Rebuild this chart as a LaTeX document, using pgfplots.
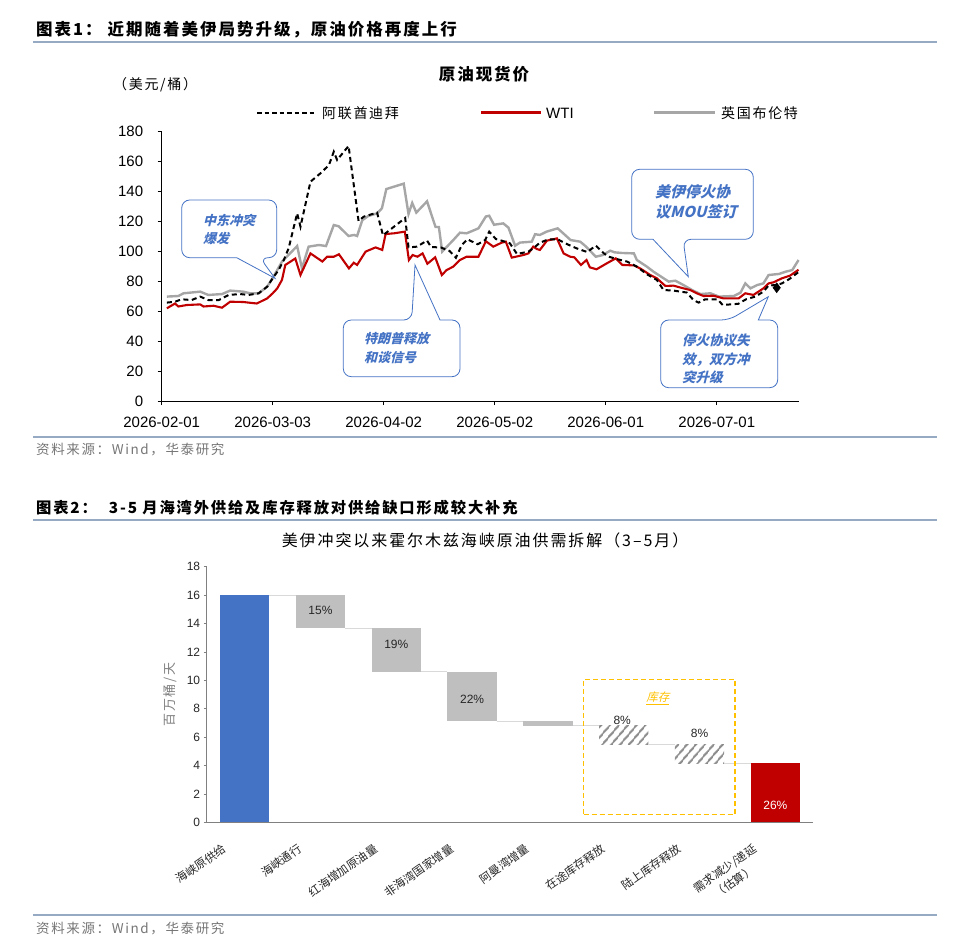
\documentclass[border=0pt]{standalone}
\usepackage{fontspec}
\setmainfont{Liberation Sans}
\newfontfamily\cjk{Noto Sans CJK SC}
\newfontfamily\cjkT[LetterSpace=12]{Noto Sans CJK SC}
\newfontfamily\cjkit[FakeSlant=0.25]{Noto Sans CJK SC}
\usepackage{pgfplots}
\pgfplotsset{compat=1.18}
\usetikzlibrary{patterns.meta}
\definecolor{wtired}{RGB}{192,0,0}
\definecolor{brent}{RGB}{166,166,166}
\definecolor{sepline}{RGB}{150,170,196}
\definecolor{annblue}{RGB}{68,114,196}
\definecolor{srcgray}{RGB}{118,118,118}
\definecolor{barblue}{RGB}{68,114,196}
\definecolor{bargray}{RGB}{191,191,191}
\definecolor{gold}{RGB}{255,192,0}
\definecolor{conn}{RGB}{217,217,217}
\definecolor{hatch}{RGB}{140,140,140}
\definecolor{axgray}{RGB}{128,128,128}
\definecolor{txtdark}{RGB}{38,38,38}
\begin{document}
\begin{tikzpicture}[x=1pt,y=1pt]
\useasboundingbox (0,0) rectangle (957,-949);
% ---------- Panel 1 headers ----------
\node[anchor=west,inner sep=0] at (36,-30) {\cjkT\bfseries\fontsize{16.5}{18}\selectfont 图表1：\hspace{6pt}近期随着美伊局势升级，原油价格再度上行};
\draw[sepline,line width=2.2pt] (33,-42) -- (937,-42);
\node[inner sep=0] at (484,-74) {\cjkT\bfseries\fontsize{16.5}{18}\selectfont 原油现货价};
\node[anchor=west,inner sep=0] at (113,-85) {\cjkT\fontsize{14}{16}\selectfont （美元/桶）};
% legend
\draw[black,line width=2.5pt,dash pattern=on 4.5pt off 3pt] (257,-113) -- (316,-113);
\node[anchor=west,inner sep=0] at (322,-113) {\cjkT\fontsize{14}{16}\selectfont 阿联酋迪拜};
\draw[wtired,line width=3pt] (481,-113) -- (541,-113);
\node[anchor=west,inner sep=0] at (546,-113) {\fontsize{15}{17}\selectfont WTI};
\draw[brent,line width=3pt] (654,-113) -- (715,-113);
\node[anchor=west,inner sep=0] at (721,-113) {\cjkT\fontsize{14}{16}\selectfont 英国布伦特};
% ---------- Panel 1 axis ----------
\begin{axis}[
  at={(161.7pt,-401pt)}, anchor=south west,
  scale only axis, width=637.6pt, height=270pt,
  xmin=0, xmax=172.3, ymin=0, ymax=180,
  axis x line*=bottom, axis y line*=left,
  axis line style={black,line width=0.8pt},
  tick align=outside, major tick length=4pt,
  tick style={black,line width=0.8pt},
  ytick={0,20,...,180},
  xtick={0,30,60,90,120,150},
  xticklabels={2026-02-01,2026-03-03,2026-04-02,2026-05-02,2026-06-01,2026-07-01},
  ticklabel style={font=\fontsize{15}{17}\selectfont},
  yticklabel style={xshift=-11pt},
  xticklabel style={yshift=-8pt},
  /pgf/number format/assume math mode=true,
]
\addplot[brent,line width=2.4pt] coordinates {
(1.4,69.6)(4.5,70)(5.9,71.8)(10.4,72.9)(12.6,70.7)(16.3,71.3)(18.5,73.6)(22,72.9)(23.9,71.8)(26.2,71.8)(28.5,76.2)(30.3,83.3)(32.5,92.9)(36.6,103.3)(37.9,88.4)(39.7,102.9)(42.5,104)(44.4,103.3)(46.5,117.3)(47.8,116.5)(50.5,110)(52,110.7)(52.8,110)(54.2,120.5)(55.8,123.3)(58.2,125.1)(59.5,128.4)(60.7,141.3)(65.4,144.9)(66.7,124.6)(67.7,132)(68.8,125.6)(71.7,133.1)(74,116)(74.9,116)(75.8,99.6)(78.8,107.3)(80.6,112.2)(82.4,111.8)(85.6,115.1)(87.6,123)(88.5,123.5)(89.8,117.5)(92.3,118.4)(93.7,115.6)(95.5,103.5)(96.8,105.6)(100,106.2)(100.9,111.2)(102.2,110.7)(104,112.9)(107,115.1)(108.5,111.8)(110.5,107.3)(113.1,106.2)(114.6,103.1)(117.3,96.2)(119.2,97.3)(121.2,100.2)(122.4,99.1)(124.3,98.7)(127.6,98.4)(128.4,94)(131.1,89.6)(132.9,86.2)(134.7,83.3)(137,79.6)(138.8,80.2)(141,77.3)(143.3,74)(144.2,72.9)(145.6,71.3)(148.3,71.8)(150.6,69.6)(154.6,70)(156.4,72.2)(157.7,78.4)(159.1,75.1)(160.9,77.3)(162.6,78.4)(164,84)(166.8,84.7)(168.6,86.2)(170.4,87.3)(172.1,94)
};
\addplot[wtired,line width=2.1pt] coordinates {
(1.4,61.8)(3.6,65)(4.5,63)(6.8,64)(10.4,64.4)(11.3,63)(14,63.5)(16.3,62.2)(18.5,66.2)(22,66)(25.7,65)(28.5,68.4)(30,71.8)(31.2,75)(32.5,80.7)(33.4,90.7)(36.1,95)(37.5,84)(40.2,98.4)(43.4,93)(44.7,96.2)(46.5,96.2)(47.9,97.8)(50.6,88.4)(51.9,92.2)(52.8,90.7)(55.1,99.6)(57.8,102.4)(59.6,100.7)(60.5,111.3)(62.8,111.8)(65.7,112.9)(66.8,94)(67.8,97.3)(69.1,96.2)(70.5,98.4)(71.8,91.5)(73.9,95.8)(75.7,84)(77,87.3)(78.8,89.6)(80.6,94)(82.4,96.2)(85.6,96.2)(87.6,106.5)(89.6,102.9)(91.9,105.6)(93,106.2)(94.6,95.6)(97.7,97.3)(99.1,98.4)(100.4,102.9)(101.4,101.3)(102.2,100.7)(104.1,106.9)(106.8,108.4)(108.6,98.4)(110.4,96.2)(111.5,95.8)(113.3,90.7)(114.8,94)(115.7,89.1)(117.5,87.8)(120.3,91.8)(122.7,95.1)(124.5,90.7)(127.6,90.4)(129.3,88.4)(132,84)(133.8,81.8)(136.1,76.7)(138.3,76.9)(141,75.1)(142.8,74)(144.6,71.8)(146.4,70)(149.1,70.2)(151.8,68.4)(155.9,68.4)(157.7,71.8)(159.9,70.7)(162.6,75.1)(164,78.4)(165.3,79.1)(167.6,81.8)(169.8,83.6)(172.1,87.5)
};
\addplot[black,line width=2pt,dash pattern=on 5pt off 3.5pt] coordinates {
(1.4,65.6)(3.6,66.2)(5.4,67.8)(8.1,67.3)(10.4,69.6)(12.6,67.3)(15.4,67.3)(18.1,70.7)(21.2,71.3)(23.5,70.7)(26.2,71.8)(28.5,76.2)(30.3,82.9)(31.6,87.3)(33,94)(34.3,101.8)(36.6,125.1)(37.5,116.2)(40.2,146.2)(42.9,151.8)(45.2,157.3)(46.5,166.2)(47.4,160.7)(50.5,170)(53.2,120)(54.6,122.9)(58.2,125.6)(59.8,110.5)(65.8,122)(66.7,102.4)(69,102.9)(71.7,107)(72.8,102.6)(75.4,102.4)(77.8,100)(79.5,95.5)(81.1,104)(82.6,107.8)(85.4,104.5)(87.4,107.3)(88.5,112.9)(90.3,108)(92.8,106.2)(94.1,105.1)(96,98)(99.1,99.6)(100.4,101.8)(102.2,105.5)(104.5,107.8)(107,107.8)(109.6,104.5)(112.1,101.8)(115,99.3)(117.3,103.6)(119.5,98.4)(120.8,96.2)(123.2,94.5)(125.8,92.9)(128.4,89.6)(131.1,84.5)(133.8,80.7)(135.6,74)(138.3,73.6)(141.9,72.3)(143.7,67.3)(145.1,65.6)(146.9,67.8)(150.2,67.8)(151.6,64)(155.8,64.8)(157.9,67.8)(160.4,69.6)(162.6,72.9)(164,77)(166,77.3)(167.6,78.4)(169.6,81.3)(172.1,86)
};
\addplot[only marks,mark=diamond*,mark size=5pt,black] coordinates {(166.2,75.5)};
\end{axis}
% callouts
\begin{scope}[annblue,line width=0.8pt]
\filldraw[fill=white] (260,-257.7) -- (275,-278.3) -- (236.7,-257.7) [rounded corners=8pt] -- (181.7,-257.7) -- (181.7,-200) -- (276.7,-200) -- (276.7,-257.7) -- cycle;
\filldraw[fill=white] (411.7,-320) -- (415,-265) -- (440,-320) [rounded corners=8pt] -- (460,-320) -- (460,-376.7) -- (343.3,-376.7) -- (343.3,-320) -- cycle;
\filldraw[fill=white] (683,-239.3) -- (688.3,-276.7) -- (653,-239.3) [rounded corners=8pt] -- (631.7,-239.3) -- (631.7,-169.3) -- (753.3,-169.3) -- (753.3,-239.3) -- cycle;
\filldraw[fill=white] (729,-320) -- (768.3,-296.7) -- (758.3,-320) [rounded corners=8pt] -- (777.7,-320) -- (777.7,-387.7) -- (660.7,-387.7) -- (660.7,-320) -- cycle;
\end{scope}
\begin{scope}[every node/.style={anchor=west,inner sep=0,text=annblue}]
\node at (203,-220) {\cjkit\bfseries\fontsize{13}{15}\selectfont 中东冲突};
\node at (203,-238.5) {\cjkit\bfseries\fontsize{13}{15}\selectfont 爆发};
\node at (364,-339) {\cjkit\bfseries\fontsize{13}{15}\selectfont 特朗普释放};
\node at (364,-357.7) {\cjkit\bfseries\fontsize{13}{15}\selectfont 和谈信号};
\node at (655,-191.7) {\cjkit\bfseries\fontsize{15}{17}\selectfont 美伊停火协};
\node at (655,-211.7) {\cjkit\bfseries\fontsize{15}{17}\selectfont 议MOU签订};
\node at (682,-340.7) {\cjkit\bfseries\fontsize{13.5}{15}\selectfont 停火协议失};
\node at (682,-359.3) {\cjkit\bfseries\fontsize{13.5}{15}\selectfont 效，双方冲};
\node at (682,-377.7) {\cjkit\bfseries\fontsize{13.5}{15}\selectfont 突升级};
\end{scope}
\draw[sepline,line width=2.2pt] (33,-437) -- (937,-437);
\node[anchor=west,inner sep=0,text=srcgray] at (36,-450) {\cjkT\fontsize{13.5}{15}\selectfont 资料来源：Wind，华泰研究};
% ---------- Panel 2 headers ----------
\node[anchor=west,inner sep=0] at (36,-508) {\cjkT\bfseries\fontsize{15.3}{18}\selectfont 图表2：\hspace{12pt}3-5 月海湾外供给及库存释放对供给缺口形成较大补充};
\draw[sepline,line width=2.2pt] (33,-520) -- (937,-520);
\node[inner sep=0] at (485,-540) {\cjkT\fontsize{16}{18}\selectfont 美伊冲突以来霍尔木兹海峡原油供需拆解（3–5月）};
% ---------- Panel 2 axis ----------
\begin{axis}[
  at={(206.7pt,-822.3pt)}, anchor=south west,
  scale only axis, width=606.6pt, height=255.6pt,
  xmin=0, xmax=8, ymin=0, ymax=18,
  axis x line*=bottom, axis y line*=left,
  axis line style={axgray,line width=0.8pt},
  tick align=outside, major tick length=3pt,
  tick style={axgray,line width=0.8pt},
  ytick={0,2,...,18},
  xtick={0.5,1.5,...,7.5},
  x tick style={draw=none},
  xticklabels={海峡原供给,海峡通行,红海增加原油量,非海湾国家增量,阿曼湾增量,在途库存释放,陆上库存释放,需求减少/递延\\（估算）},
  yticklabel style={font=\fontsize{12}{14}\selectfont,text=txtdark},
  xticklabel style={font=\cjk\fontsize{11.5}{16}\selectfont,text=txtdark,rotate=35,anchor=north east,align=center,inner sep=0pt,xshift=-29pt,yshift=-1pt},
  ylabel={\cjkT\fontsize{13}{15}\selectfont 百万桶/天},
  ylabel style={text=axgray,at={(axis description cs:-0.0605,0.5)},anchor=center},
  /pgf/number format/assume math mode=true,
  clip=false,
]
\addplot[fill=barblue,draw=none] coordinates {(0.175,0)(0.825,0)(0.825,16)(0.175,16)} --cycle;
\addplot[fill=bargray,draw=none] coordinates {(1.175,13.65)(1.825,13.65)(1.825,16)(1.175,16)} --cycle;
\addplot[fill=bargray,draw=none] coordinates {(2.175,10.6)(2.825,10.6)(2.825,13.65)(2.175,13.65)} --cycle;
\addplot[fill=bargray,draw=none] coordinates {(3.175,7.1)(3.825,7.1)(3.825,10.6)(3.175,10.6)} --cycle;
\addplot[fill=bargray,draw=none] coordinates {(4.175,6.8)(4.825,6.8)(4.825,7.1)(4.175,7.1)} --cycle;
\addplot[pattern={Lines[angle=50,distance=6.5pt,line width=2.2pt]},pattern color=hatch,draw=none] coordinates {(5.175,5.5)(5.825,5.5)(5.825,6.8)(5.175,6.8)} --cycle;
\addplot[pattern={Lines[angle=50,distance=6.5pt,line width=2.2pt]},pattern color=hatch,draw=none] coordinates {(6.175,4.15)(6.825,4.15)(6.825,5.5)(6.175,5.5)} --cycle;
\addplot[fill=wtired,draw=none] coordinates {(7.175,0)(7.825,0)(7.825,4.15)(7.175,4.15)} --cycle;
% connectors
\addplot[conn,line width=1.2pt] coordinates {(0.825,16)(1.175,16)};
\addplot[conn,line width=1.2pt] coordinates {(1.825,13.65)(2.175,13.65)};
\addplot[conn,line width=1.2pt] coordinates {(2.825,10.6)(3.175,10.6)};
\addplot[conn,line width=1.2pt] coordinates {(3.825,7.1)(4.175,7.1)};
\addplot[conn,line width=1.2pt] coordinates {(4.825,6.8)(5.175,6.8)};
\addplot[conn,line width=1.2pt] coordinates {(5.825,5.5)(6.175,5.5)};
\addplot[conn,line width=1.2pt] coordinates {(6.825,4.15)(7.175,4.15)};
% inventory box
\addplot[draw=gold,line width=1.6pt,dash pattern=on 5pt off 3pt] coordinates {(4.97,0.56)(6.97,0.56)(6.97,10.07)(4.97,10.07)(4.97,0.56)};
\node[text=gold] at (axis cs:5.95,8.73) {\cjkit\fontsize{11.5}{13}\selectfont\underline{库存}};
\node[text=txtdark] at (axis cs:1.5,14.9) {\fontsize{12}{14}\selectfont 15\%};
\node[text=txtdark] at (axis cs:2.5,12.5) {\fontsize{12}{14}\selectfont 19\%};
\node[text=txtdark] at (axis cs:3.5,8.65) {\fontsize{12}{14}\selectfont 22\%};
\node[text=txtdark] at (axis cs:5.48,7.15) {\fontsize{12}{14}\selectfont 8\%};
\node[text=txtdark] at (axis cs:6.5,6.27) {\fontsize{12}{14}\selectfont 8\%};
\node[text=white] at (axis cs:7.5,1.22) {\fontsize{12}{14}\selectfont 26\%};
\end{axis}
\draw[sepline,line width=2.2pt] (33,-915) -- (937,-915);
\node[anchor=west,inner sep=0,text=srcgray] at (36,-928) {\cjkT\fontsize{13.5}{15}\selectfont 资料来源：Wind，华泰研究};
\end{tikzpicture}
\end{document}
